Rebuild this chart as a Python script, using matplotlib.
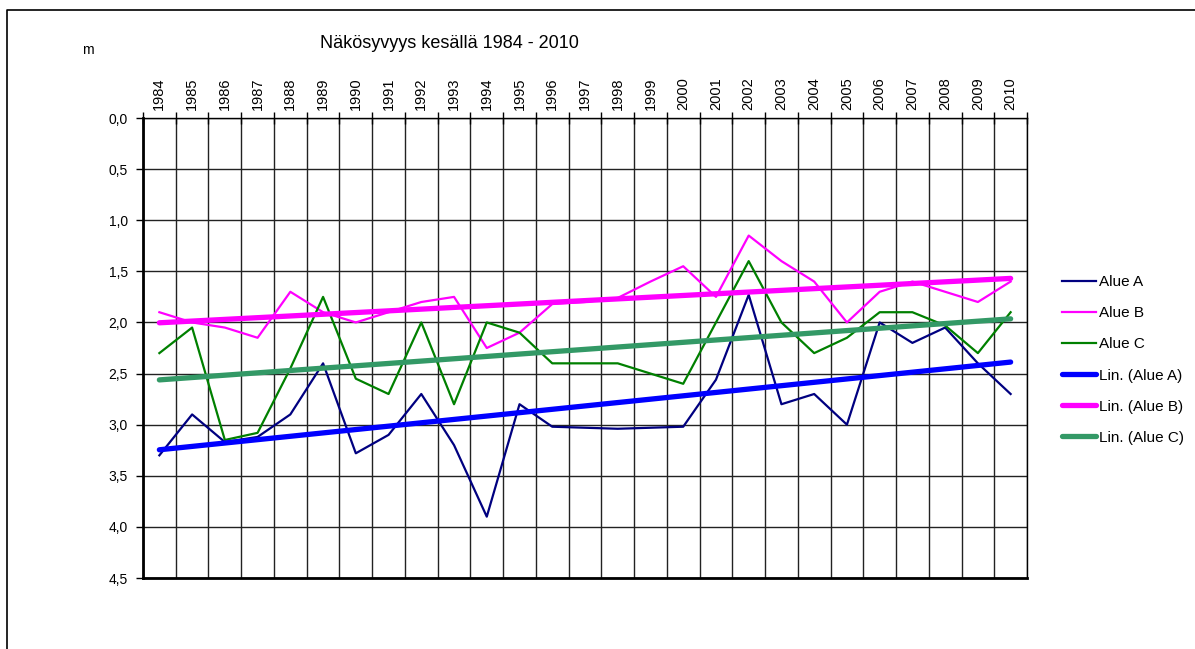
import matplotlib
matplotlib.use("Agg")
import matplotlib.pyplot as plt
from matplotlib import font_manager
from matplotlib.lines import Line2D
import numpy as np

years = list(range(1984, 2011))
alue_a = [3.3, 2.9, 3.17, 3.12, 2.9, 2.4, 3.28, 3.1, 2.7, 3.2, 3.9, 2.8, 3.02, 3.03,
          3.04, 3.03, 3.02, 2.56, 1.73, 2.8, 2.7, 3.0, 2.0, 2.2, 2.05, 2.4, 2.7]
alue_b = [1.9, 2.0, 2.05, 2.15, 1.7, 1.9, 2.0, 1.9, 1.8, 1.75, 2.25, 2.1, 1.82, 1.8,
          1.76, 1.6, 1.45, 1.75, 1.15, 1.4, 1.6, 2.0, 1.7, 1.6, 1.7, 1.8, 1.6]
alue_c = [2.3, 2.05, 3.15, 3.08, 2.45, 1.75, 2.55, 2.7, 2.0, 2.8, 2.0, 2.1, 2.4, 2.4,
          2.4, 2.5, 2.6, 2.0, 1.4, 2.0, 2.3, 2.15, 1.9, 1.9, 2.03, 2.3, 1.9]
series_names = ["Alue A", "Alue B", "Alue C"]
trend_names = ["Lin. (Alue A)", "Lin. (Alue B)", "Lin. (Alue C)"]
y_ticks = [0.0, 0.5, 1.0, 1.5, 2.0, 2.5, 3.0, 3.5, 4.0, 4.5]
title = "Näkösyvyys kesällä 1984 - 2010"

avail = {f.name for f in font_manager.fontManager.ttflist}
narrow = "Liberation Sans Narrow" if "Liberation Sans Narrow" in avail else "Liberation Sans"
regular = "Liberation Sans" if "Liberation Sans" in avail else "DejaVu Sans"

fig = plt.figure(figsize=(11.95, 6.49), dpi=100)
ax = fig.add_axes([143/1195, 1-578/649, (1027-143)/1195, (578-118)/649])

x = np.arange(len(years))
line_colors = ["#000080", "#FF00FF", "#008000"]
trend_colors = ["#0000FF", "#FF00FF", "#339966"]
handles = []
for vals, c, n in zip([alue_a, alue_b, alue_c], line_colors, series_names):
    h, = ax.plot(x, vals, color=c, lw=1.6, label=n, zorder=3)
    handles.append(h)
for vals, c, n in zip([alue_a, alue_b, alue_c], trend_colors, trend_names):
    k, b = np.polyfit(x, vals, 1)
    h, = ax.plot(x, k*x + b, color=c, lw=3.8, label=n, zorder=4,
                 solid_capstyle="round")
    handles.append(h)

ax.set_xlim(-0.5, len(years) - 0.5)
ax.set_ylim(4.5, 0.0)
bounds = np.arange(-0.5, len(years), 1.0)
ax.set_xticks(bounds)
ax.set_xticklabels([""] * len(bounds))
ax.set_xticks(x, minor=True)
ax.set_xticklabels([str(y) for y in years], minor=True, rotation=90,
                   family=narrow, fontsize=10.5)
ax.xaxis.set_ticks_position("top")
ax.tick_params(axis="x", which="major", direction="inout", length=8, width=1, color="black")
ax.tick_params(axis="x", which="minor", length=0, pad=6)
ax.set_yticks(y_ticks)
ax.set_yticklabels([f"{v:.1f}".replace(".", ",") for v in y_ticks],
                   family=narrow, fontsize=10)
ax.tick_params(axis="y", direction="out", length=5, width=1, pad=6)
ax.grid(True, which="major", color="#222222", lw=1.0)
ax.set_axisbelow(True)
for s in ["top", "right"]:
    ax.spines[s].set_linewidth(1.0)
ax.spines["left"].set_linewidth(2.0)
ax.spines["bottom"].set_linewidth(2.0)

fig.text(449/1195, 1-44/649, title, ha="center", va="center", family=narrow, fontsize=13)
fig.text(88/1195, 1-50/649, "m", ha="center", va="center", family=narrow, fontsize=10)

fig.legend(handles=handles, loc="center left", bbox_to_anchor=(1062/1195, 1-360/649),
           frameon=False, prop={"family": regular, "size": 11},
           handlelength=2.2, handletextpad=0.25, labelspacing=1.12, borderaxespad=0,
           borderpad=0)

fig.add_artist(Line2D([7/1195, 7/1195, 1.0], [0.0, 1-10/649, 1-10/649],
                      transform=fig.transFigure, color="black", lw=1.2))

fig.savefig("out.png", dpi=100)
